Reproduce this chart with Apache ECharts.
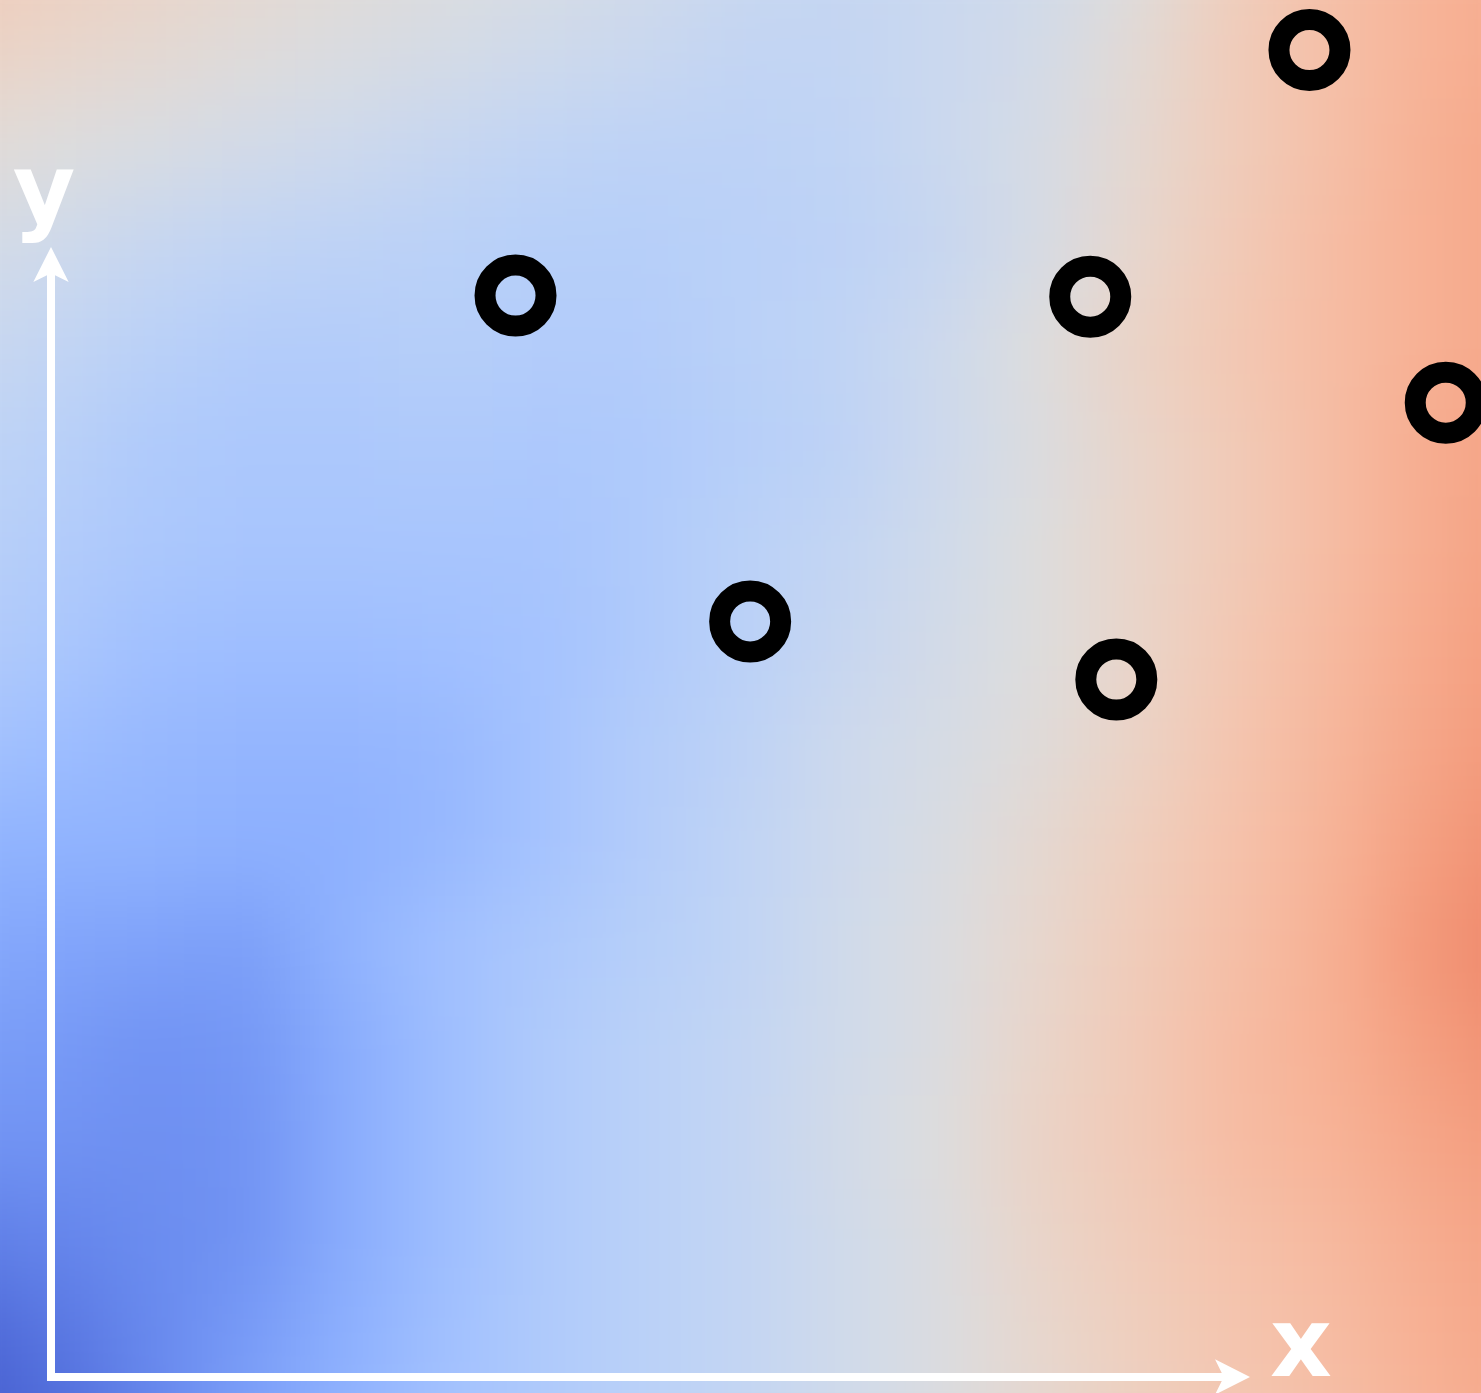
<!DOCTYPE html>
<html>
<head>
<meta charset="utf-8">
<script src="https://cdn.jsdelivr.net/npm/echarts@6/dist/echarts.min.js"></script>
<style>
  html, body { margin: 0; padding: 0; width: 1481px; height: 1393px; overflow: hidden; background: #dcdcdc; }
  /* the field layer is one cell larger on every side so the smoothing does not fade at the edges */
  #field { position: absolute; left: -98.73px; top: -99.5px; width: 1678.47px; height: 1592px; filter: blur(42px); }
  #plot { position: absolute; left: 0; top: 0; width: 1481px; height: 1393px; }
</style>
</head>
<body>
<div id="field"></div>
<div id="plot"></div>
<script>
// Background field: a 17 x 16 grid of values on a 0-100 scale (cool -> warm).
const fieldColumns = ['-1','0','1','2','3','4','5','6','7','8','9','10','11','12','13','14','15'];
const fieldRows = ['-1','0','1','2','3','4','5','6','7','8','9','10','11','12','13','14'];
const field = [
  [60, 58, 56, 54, 52, 50, 48, 46, 43, 42, 43, 45, 50, 58, 64, 68, 70],
  [57, 55, 53, 51, 49, 47, 45, 43, 41, 41, 43, 46, 52, 59, 64, 68, 71],
  [52, 50, 48, 46, 44, 42, 40, 39, 39, 40, 43, 47, 53, 59, 64, 69, 72],
  [47, 45, 42, 40, 39, 38, 37, 37, 38, 39, 42, 47, 54, 60, 65, 69, 72],
  [43, 41, 38, 36, 36, 37, 36, 36, 38, 40, 44, 50, 56, 61, 65, 69, 72],
  [40, 38, 35, 34, 34, 35, 34, 35, 37, 39, 44, 49, 55, 60, 65, 70, 73],
  [38, 36, 34, 33, 33, 33, 33, 35, 38, 41, 45, 50, 55, 60, 65, 70, 74],
  [36, 34, 31, 30, 30, 31, 32, 35, 38, 42, 46, 50, 55, 61, 66, 71, 75],
  [32, 30, 28, 27, 27, 28, 32, 36, 39, 44, 47, 51, 56, 62, 67, 72, 76],
  [26, 26, 26, 25, 25, 28, 32, 36, 40, 44, 48, 53, 58, 63, 68, 74, 78],
  [23, 22, 21, 20, 26, 31, 34, 37, 40, 45, 49, 54, 59, 64, 69, 76, 80],
  [20, 19, 17, 18, 24, 30, 35, 38, 41, 45, 49, 55, 60, 65, 69, 74, 78],
  [17, 17, 16, 17, 24, 30, 35, 38, 41, 46, 50, 56, 60, 65, 68, 72, 75],
  [11, 13, 15, 17, 24, 30, 35, 38, 41, 45, 49, 55, 59, 63, 66, 70, 73],
  [ 5,  9, 14, 19, 25, 31, 35, 38, 41, 45, 49, 54, 58, 62, 65, 69, 72],
  [ 3,  6, 13, 21, 26, 32, 35, 38, 41, 45, 49, 53, 57, 61, 64, 68, 71]
];

// Diverging cool-warm palette
const coolwarm = [
  '#3b4cc0', '#4d68d7', '#6282ea', '#779af7', '#8db0fe', '#a2c1ff', '#b8d0f9', '#ccd9ee',
  '#dddddd', '#ecd3c5', '#f5c4ad', '#f7b194', '#f49a7b', '#ec7f63', '#de604d', '#cb3e38', '#b40426'
];

// Observations (axis units: the arrows run from 0 to 1)
const pointX = [0.392, 0.877, 1.062, 1.177, 0.590, 0.899];
const pointY = [0.969, 0.968, 1.189, 0.873, 0.677, 0.625];

const axisNames = ['x', 'y'];

const heatData = [];
field.forEach(function (row, r) {
  row.forEach(function (v, c) { heatData.push([c, r, v]); });
});

const fieldChart = echarts.init(document.getElementById('field'), null, { renderer: 'canvas' });
fieldChart.setOption({
  animation: false,
  grid: { left: 0, right: 0, top: 0, bottom: 0, containLabel: false, outerBoundsMode: 'none' },
  xAxis: { type: 'category', data: fieldColumns, show: false },
  yAxis: { type: 'category', data: fieldRows, show: false, inverse: true },
  visualMap: { show: false, min: 0, max: 100, inRange: { color: coolwarm } },
  series: [{
    type: 'heatmap',
    data: heatData,
    silent: true,
    progressive: 0,
    itemStyle: { borderWidth: 0 },
    emphasis: { disabled: true }
  }]
});

const axisCommon = {
  type: 'value', min: 0, max: 1,
  nameLocation: 'end',
  axisLine: {
    show: true, onZero: false,
    symbol: ['none', 'arrow'], symbolSize: [26.5, 35], symbolOffset: [0, 14],
    lineStyle: { color: '#ffffff', width: 8, cap: 'square' }
  },
  axisTick: { show: false },
  axisLabel: { show: false },
  splitLine: { show: false }
};

const nameStyle = { color: '#ffffff', fontSize: 96, fontWeight: 'bold', fontFamily: 'DejaVu Sans' };

const plot = echarts.init(document.getElementById('plot'), null, { renderer: 'canvas' });
plot.setOption({
  backgroundColor: 'transparent',
  animation: false,
  grid: { left: 51, right: 245, top: 261, bottom: 16, containLabel: false, outerBoundsMode: 'none' },
  xAxis: Object.assign({}, axisCommon, {
    name: axisNames[0], nameGap: 34,
    nameTextStyle: Object.assign({}, nameStyle, { verticalAlign: 'bottom', lineHeight: 52 })
  }),
  yAxis: Object.assign({}, axisCommon, {
    name: axisNames[1], nameGap: 16,
    nameTextStyle: Object.assign({}, nameStyle, { padding: [0, 14, 0, 0] })
  }),
  series: [{
    type: 'scatter',
    data: pointX.map(function (x, i) { return [x, pointY[i]]; }),
    symbol: 'circle',
    symbolSize: 61,
    clip: false,
    silent: true,
    itemStyle: { color: 'rgba(0,0,0,0)', borderColor: '#000000', borderWidth: 21, opacity: 1 }
  }]
});
</script>
</body>
</html>
